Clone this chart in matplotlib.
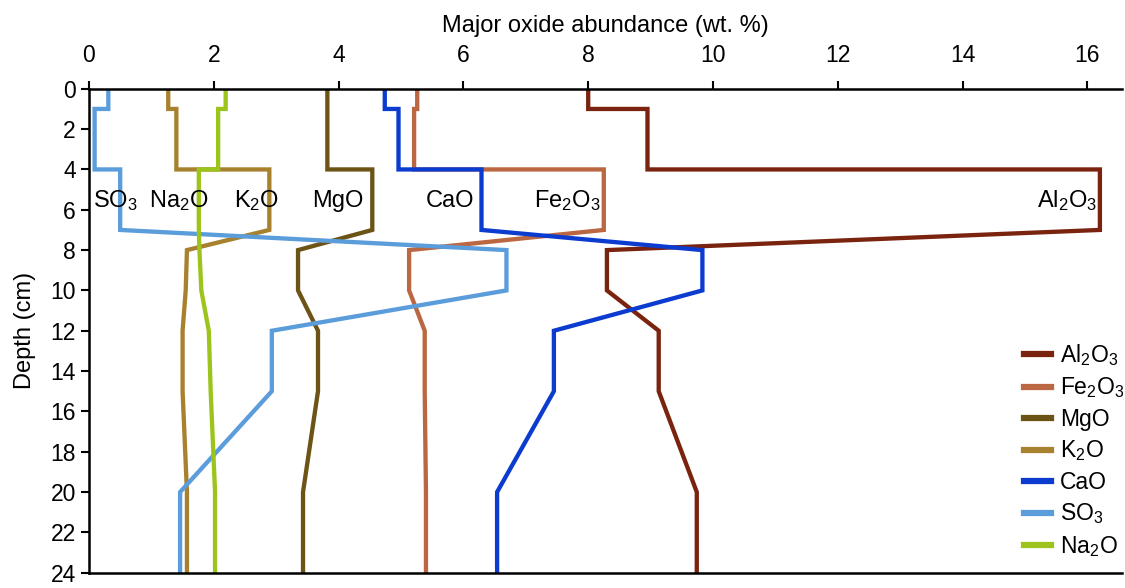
import numpy as np
import matplotlib.pyplot as plt

plt.rcParams['font.family'] = ['Liberation Sans', 'DejaVu Sans']
plt.rcParams['mathtext.fontset'] = 'custom'
plt.rcParams['mathtext.rm'] = 'Liberation Sans'
plt.rcParams['mathtext.it'] = 'Liberation Sans'

# depth of each profile vertex (cm); repeated depths give the horizontal steps
depth = [0, 1, 1, 4, 4, 7, 8, 10, 12, 15, 20, 24]

al2o3 = [8.0, 8.0, 8.95, 8.95, 16.2, 16.2, 8.3, 8.3, 9.13, 9.13, 9.74, 9.74]
fe2o3 = [5.26, 5.26, 5.21, 5.21, 8.25, 8.25, 5.13, 5.13, 5.38, 5.38, 5.40, 5.40]
mgo = [3.82, 3.82, 3.82, 3.82, 4.54, 4.54, 3.35, 3.35, 3.67, 3.67, 3.43, 3.43]
k2o = [1.27, 1.27, 1.40, 1.40, 2.89, 2.89, 1.57, 1.55, 1.50, 1.50, 1.57, 1.57]
cao = [4.74, 4.74, 4.96, 4.96, 6.29, 6.29, 9.83, 9.83, 7.45, 7.45, 6.54, 6.54]
so3 = [0.31, 0.31, 0.09, 0.09, 0.50, 0.50, 6.69, 6.69, 2.93, 2.93, 1.46, 1.46]
na2o = [2.19, 2.19, 2.07, 2.07, 1.76, 1.76, 1.77, 1.80, 1.92, 1.95, 2.02, 2.02]

names = ['Al$_2$O$_3$', 'Fe$_2$O$_3$', 'MgO', 'K$_2$O', 'CaO', 'SO$_3$', 'Na$_2$O']
series = [al2o3, fe2o3, mgo, k2o, cao, so3, na2o]
colors = ['#7a2410', '#bb6741', '#6b5416', '#a8812e', '#0b3ccf', '#5b9ddb', '#9cc41c']

# in-plot labels: (text, x centre)
labels = [('SO$_3$', 0.43), ('Na$_2$O', 1.44), ('K$_2$O', 2.68), ('MgO', 3.99),
          ('CaO', 5.78), ('Fe$_2$O$_3$', 7.67), ('Al$_2$O$_3$', 15.67)]
label_depth = 5.55

fig = plt.figure(figsize=(11.25, 5.88), dpi=100)
ax = fig.add_axes([0.0791, 0.026, 0.918, 0.823])

for vals, name, c in zip(series, names, colors):
    ax.plot(vals, depth, color=c, lw=3.1, label=name, solid_joinstyle='miter')

for txt, x in labels:
    ax.text(x, label_depth, txt, fontsize=17, ha='center', va='center')

ax.set_xlim(0, 16.55)
ax.set_ylim(24, 0)
ax.set_xticks(np.arange(0, 17, 2))
ax.set_yticks(np.arange(0, 25, 2))
ax.xaxis.tick_top()
ax.xaxis.set_label_position('top')
ax.set_xlabel('Major oxide abundance (wt. %)', fontsize=17, labelpad=9)
ax.set_ylabel('Depth (cm)', fontsize=17, labelpad=10)
ax.tick_params(labelsize=16.5, width=1.5, length=5.5, direction='out')
ax.tick_params(axis='x', pad=10)
ax.tick_params(axis='y', pad=4)
ax.spines['right'].set_visible(False)
for s in ['top', 'left', 'bottom']:
    ax.spines[s].set_linewidth(1.8)

leg = ax.legend(loc='lower right', bbox_to_anchor=(1.016, 0.0), frameon=False, fontsize=16.5,
                handlelength=1.15, handletextpad=0.4, labelspacing=0.33, borderaxespad=0.2)
for h in leg.get_lines():
    h.set_linewidth(4.5)

fig.savefig('out.png', dpi=100)
